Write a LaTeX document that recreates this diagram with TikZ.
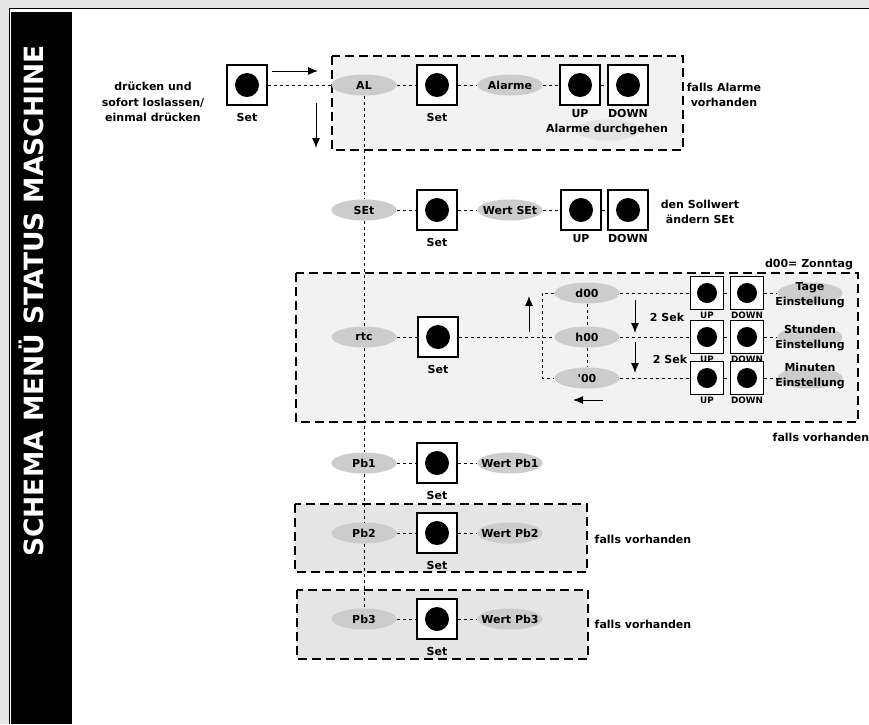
\documentclass[tikz,border=0pt]{standalone}
\usepackage{fontspec}
\setmainfont{DejaVu Sans}
\usetikzlibrary{shapes.geometric, arrows.meta, positioning}

\begin{document}
\begin{tikzpicture}[
    x=1pt, y=-1pt,
    font=\bfseries\fontsize{11}{15.5}\selectfont,
    button/.style={rectangle, draw, line width=1.3pt, fill=white, minimum size=40pt, inner sep=0pt,
        path picture={\fill[black] (path picture bounding box.center) circle (12pt);}},
    minibutton/.style={rectangle, draw, line width=1.2pt, fill=white, minimum size=33pt, inner sep=0pt,
        path picture={\fill[black] (path picture bounding box.center) circle (10pt);}},
    state/.style={ellipse, fill=gray!40, minimum width=65pt, minimum height=21pt, inner xsep=-8pt, inner ysep=0pt},
    group/.style={draw, line width=1.3pt, dash pattern=on 9pt off 5pt},
    link/.style={line width=1pt, dash pattern=on 3pt off 3pt},
    arrow/.style={-{Latex[length=10pt, width=8pt]}, line width=1pt},
    caption/.style={label distance=4pt},
    tag/.style={label distance=0.5pt},
    mini/.style={font=\bfseries\fontsize{8.8}{10}\selectfont, label distance=-1.5pt}
]
    \useasboundingbox (0,0) rectangle (869,724);
    % frame and side bar
    \fill[gray!20] (0,0) rectangle (869,724);
    \fill[white] (9.5,8.5) rectangle (869,724);
    \draw[line width=1.5pt] (9.5,724) -- (9.5,8.5) -- (869,8.5);
    \fill (11,12) rectangle (72,724);
    \node[rotate=90, anchor=base, text=white, font=\bfseries\fontsize{26.5}{26.5}\selectfont] (title) at (43,301) {SCHEMA MENÜ STATUS MASCHINE};

    % optional groups
    \draw[group, fill=gray!10] (332,56) rectangle (683,150);
    \draw[group, fill=gray!10] (296,273) rectangle (858,422);
    \draw[group, fill=gray!20] (295,504) rectangle (587,572);
    \draw[group, fill=gray!20] (297,590) rectangle (588,659);

    % alarms
    \node[align=center] (hint) at (153,102) {drücken und\\sofort loslassen/\\einmal drücken};
    \node[button, label={[caption]below:Set}] (set0) at (247,85) {};
    \node[state] (al) at (364,85) {AL};
    \node[button, label={[caption]below:Set}] (set1) at (437,85) {};
    \node[state] (alarme) at (510,85) {Alarme};
    \node[state, fill=gray!22] (scroll) at (608,130) {};
    \node (scrolltext) at (607,130) {Alarme durchgehen};
    \node[button, label={[tag]below:UP}] (up1) at (580,85) {};
    \node[button, label={[tag]below:DOWN}] (down1) at (628,85) {};
    \node[align=center] (alnote) at (724,95) {falls Alarme\\vorhanden};

    \draw[link] (set0) -- (al);
    \draw[link] (al) -- (set1);
    \draw[link] (set1) -- (alarme);
    \draw[link] (alarme) -- (up1);
    \draw[link] (up1) -- (down1);
    \draw[arrow] (272,71) -- (318,71);
    \draw[arrow] (316,103) -- (316,148);

    % setpoint
    \node[state] (sp) at (364,210) {SEt};
    \node[button, label={[caption]below:Set}] (set2) at (437,210) {};
    \node[state] (wsp) at (510,210) {Wert SEt};
    \node[button, label={[tag]below:UP}] (up2) at (581,210) {};
    \node[button, label={[tag]below:DOWN}] (down2) at (628,210) {};
    \node[align=center] (spnote) at (700,212) {den Sollwert\\ändern SEt};

    \draw[link] (sp) -- (set2);
    \draw[link] (set2) -- (wsp);
    \draw[link] (wsp) -- (up2);
    \draw[link] (up2) -- (down2);

    % clock
    \node (zonntag) at (809,264) {d00= Zonntag};
    \node (rtcnote) at (821,437) {falls vorhanden};
    \node[state] (rtc) at (364,337) {rtc};
    \node[button, label={[caption]below:Set}] (set3) at (438,337) {};
    \node[state] (d00) at (587,293) {d00};
    \node[state] (h00) at (587,337) {h00};
    \node[state] (m00) at (587,378) {\textquotesingle 00};
    \coordinate (loop) at (542,337);

    \node[minibutton, label={[mini]below:UP}] (upa) at (707,293) {};
    \node[minibutton, label={[mini]below:DOWN}] (downa) at (747,293) {};
    \node[minibutton, label={[mini]below:UP}] (upb) at (707,337) {};
    \node[minibutton, label={[mini]below:DOWN}] (downb) at (747,337) {};
    \node[minibutton, label={[mini]below:UP}] (upc) at (707,378) {};
    \node[minibutton, label={[mini]below:DOWN}] (downc) at (747,378) {};

    \node[state] (tage) at (810,293) {};
    \node[align=center] at (810,295) {Tage\\Einstellung};
    \node[state] (stunden) at (810,337) {};
    \node[align=center] at (810,338) {Stunden\\Einstellung};
    \node[state] (minuten) at (810,378) {};
    \node[align=center] at (810,376) {Minuten\\Einstellung};

    \draw[link] (rtc) -- (set3);
    \draw[link] (set3) -- (h00);
    \draw[link] (d00) -| (loop) |- (m00);
    \draw[link] (d00) -- (h00);
    \draw[link] (h00) -- (m00);
    \draw[link] (d00) -- (upa);
    \draw[link] (upa) -- (downa);
    \draw[link] (downa) -- (tage);
    \draw[link] (h00) -- (upb);
    \draw[link] (upb) -- (downb);
    \draw[link] (downb) -- (stunden);
    \draw[link] (m00) -- (upc);
    \draw[link] (upc) -- (downc);
    \draw[link] (downc) -- (minuten);

    \draw[arrow] (529,332) -- (529,296);
    \draw[arrow] (603,400) -- (573,400);
    \draw[arrow] (635,300) -- (635,333);
    \draw[arrow] (635,342) -- (635,373);
    \node (sek1) at (667,317) {2 Sek};
    \node (sek2) at (670,359) {2 Sek};

    % probes
    \node[state] (pb1) at (364,463) {Pb1};
    \node[button, label={[caption]below:Set}] (set4) at (437,463) {};
    \node[state] (wpb1) at (510,463) {Wert Pb1};
    \node[state] (pb2) at (364,533) {Pb2};
    \node[button, label={[caption]below:Set}] (set5) at (437,533) {};
    \node[state] (wpb2) at (510,533) {Wert Pb2};
    \node (pb2note) at (643,539) {falls vorhanden};
    \node[state] (pb3) at (364,619) {Pb3};
    \node[button, label={[caption]below:Set}] (set6) at (437,619) {};
    \node[state] (wpb3) at (510,619) {Wert Pb3};
    \node (pb3note) at (643,624) {falls vorhanden};

    \draw[link] (pb1) -- (set4);
    \draw[link] (set4) -- (wpb1);
    \draw[link] (pb2) -- (set5);
    \draw[link] (set5) -- (wpb2);
    \draw[link] (pb3) -- (set6);
    \draw[link] (set6) -- (wpb3);

    % main chain
    \draw[link] (al) -- (sp) -- (rtc) -- (pb1) -- (pb2) -- (pb3);
\end{tikzpicture}
\end{document}
